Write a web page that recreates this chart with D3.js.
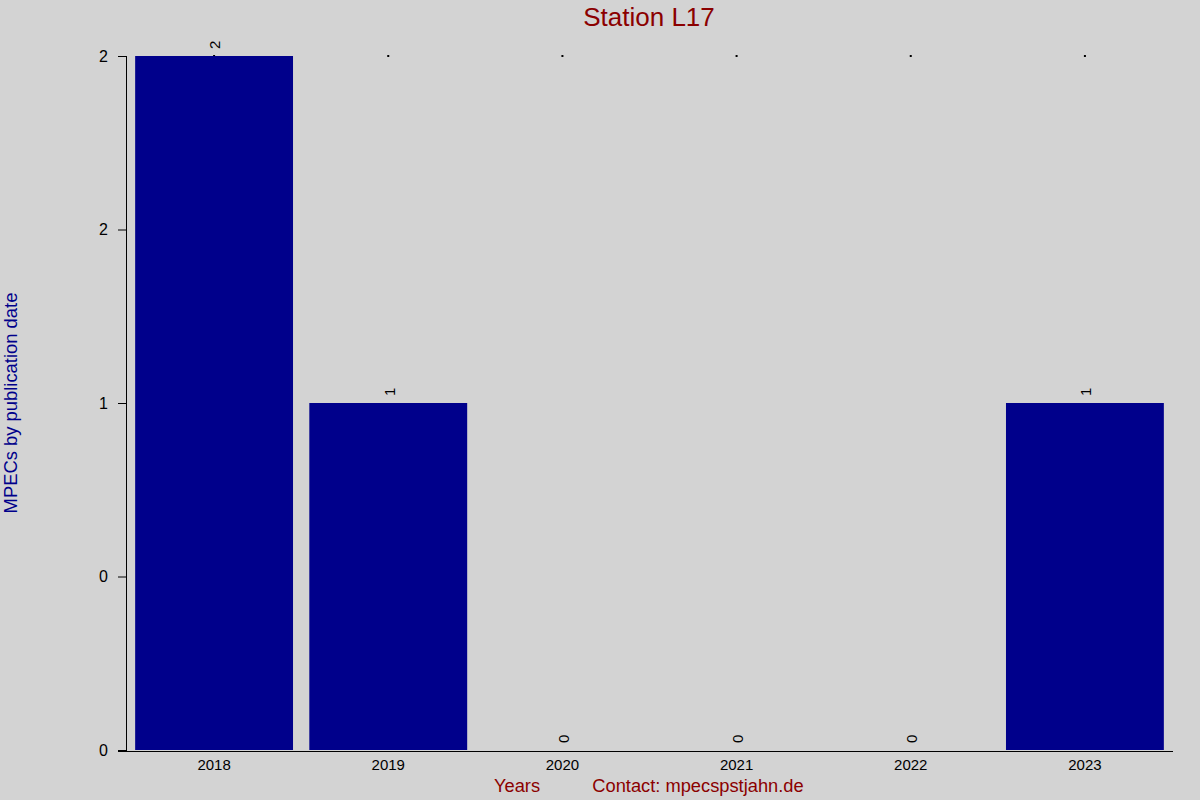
<!DOCTYPE html>
<html lang="en">
<head>
<meta charset="UTF-8"/>
<title>Station L17</title>
<script src="https://cdn.jsdelivr.net/npm/d3@7"></script>
<style>
  body { margin: 0; background: #d3d3d3; }
  text { font-family: "Liberation Sans", Arial, sans-serif; }
</style>
</head>
<body>
<script>
var years = ["2018", "2019", "2020", "2021", "2022", "2023"];
var counts = [2, 1, 0, 0, 0, 1];
var yTickValues = [0, 0.5, 1, 1.5, 2];
var yTickLabels = ["0", "0", "1", "2", "2"];

var w = 1200, h = 800;
var plotLeft = 127, plotRight = 1172, plotTop = 56, plotBottom = 750;

var svg = d3.select("body").append("svg")
  .attr("width", w)
  .attr("height", h);

svg.append("rect")
  .attr("width", w).attr("height", h)
  .attr("fill", "#d3d3d3");

var x = d3.scaleBand()
  .domain(years)
  .range([plotLeft, plotRight])
  .paddingInner(0.0936)
  .paddingOuter(0.0468);

var y = d3.scaleLinear()
  .domain([0, d3.max(counts)])
  .range([plotBottom, plotTop]);

// small marks at the top of each column
svg.selectAll("rect.dot")
  .data(years)
  .enter().append("rect")
  .attr("class", "dot")
  .attr("x", function(d) { return x(d) + x.bandwidth() / 2 - 1; })
  .attr("y", y(d3.max(counts)) - 1)
  .attr("width", 2).attr("height", 2)
  .attr("fill", "#000");

svg.selectAll("rect.bar")
  .data(counts)
  .enter().append("rect")
  .attr("class", "bar")
  .attr("x", function(d, i) { return x(years[i]); })
  .attr("y", function(d) { return y(d); })
  .attr("width", x.bandwidth())
  .attr("height", function(d) { return y(0) - y(d); })
  .attr("fill", "#00008b");

// value labels, rotated
svg.selectAll("text.val")
  .data(counts)
  .enter().append("text")
  .attr("class", "val")
  .attr("transform", function(d, i) {
    return "translate(" + (x(years[i]) + x.bandwidth() / 2 + 1) + "," + (y(d) - 7) + ") rotate(-90)";
  })
  .attr("dy", "0.35em")
  .attr("text-anchor", "start")
  .attr("font-size", 15)
  .attr("fill", "#000")
  .text(function(d) { return d; });

var xAxis = d3.axisBottom(x).tickSize(0).tickPadding(8);
var gx = svg.append("g")
  .attr("transform", "translate(0," + (plotBottom + 1) + ")")
  .call(xAxis);
gx.select(".domain").attr("d", "M118,0.5H1173").attr("stroke", "#000");
gx.selectAll("text").attr("font-size", 15).attr("fill", "#000")
  .style("font-family", "Liberation Sans, Arial, sans-serif");

var yAxis = d3.axisLeft(y)
  .tickValues(yTickValues)
  .tickSize(8)
  .tickPadding(10)
  .tickFormat(function(d, i) { return yTickLabels[i]; });
var gy = svg.append("g")
  .attr("transform", "translate(126,0)")
  .call(yAxis);
gy.select(".domain").attr("d", "M0.5," + plotTop + "V" + (plotBottom + 1)).attr("stroke", "#000");
gy.selectAll("text").attr("font-size", 16).attr("fill", "#000")
  .style("font-family", "Liberation Sans, Arial, sans-serif");

svg.append("text")
  .attr("x", 649).attr("y", 26)
  .attr("text-anchor", "middle")
  .attr("font-size", 26)
  .attr("fill", "#8b0000")
  .text("Station L17");

svg.append("text")
  .attr("transform", "translate(17,403) rotate(-90)")
  .attr("text-anchor", "middle")
  .attr("font-size", 18.4)
  .attr("fill", "#00008b")
  .text("MPECs by publication date");

svg.append("text")
  .attr("x", 517).attr("y", 792)
  .attr("text-anchor", "middle")
  .attr("font-size", 18.3)
  .attr("fill", "#8b0000")
  .text("Years");

svg.append("text")
  .attr("x", 698).attr("y", 792)
  .attr("text-anchor", "middle")
  .attr("font-size", 18.3)
  .attr("fill", "#8b0000")
  .text("Contact: mpecspstjahn.de");
</script>
</body>
</html>
